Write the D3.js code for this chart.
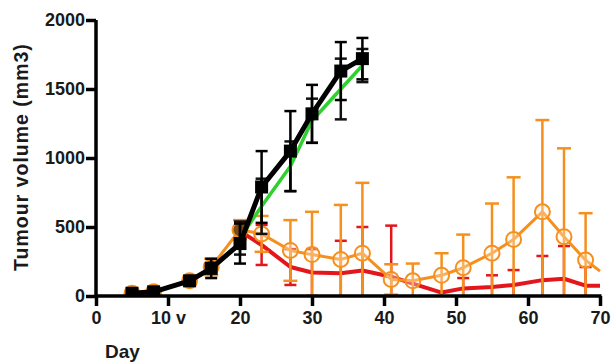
<!DOCTYPE html>
<html>
<head>
<meta charset="utf-8">
<script src="https://cdn.jsdelivr.net/npm/d3@7"></script>
<style>
  body { margin: 0; background: #fff; }
  svg { display: block; }
  text { font-family: "Liberation Sans", Arial, sans-serif; font-weight: bold; fill: #1a1a1a; }
</style>
</head>
<body>
<svg id="chart" width="614" height="362"></svg>
<script>
// ---- data ----
const xTicks = [0, 10, 20, 30, 40, 50, 60, 70];
const xTickLabels = ["0", "10 v", "20", "30", "40", "50", "60", "70"];
const yTicks = [0, 500, 1000, 1500, 2000];

const blackDays = [5, 8, 13, 16, 20, 23, 27, 30, 34, 37];
const blackVals = [20, 30, 110, 200, 380, 790, 1050, 1320, 1630, 1720];
const blackErr  = [10, 12, 30, 70, 145, 260, 290, 210, 210, 150];

const greenDays = [20, 23, 27, 30, 34, 37];
const greenVals = [420, 650, 940, 1270, 1500, 1670];
const greenErr  = [120, 200, 180, 160, 220, 120];

const orangeDays = [5, 8, 13, 16, 20, 23, 27, 30, 34, 37, 41, 44, 48, 51, 55, 58, 62, 65, 68, 70];
const orangeVals = [20, 30, 110, 210, 480, 450, 330, 300, 265, 310, 120, 110, 150, 205, 310, 410, 610, 430, 260, 180];
const orangeErr  = [10, 12, 30, 60, 70, 130, 220, 310, 395, 510, 110, 125, 160, 240, 360, 450, 665, 640, 340, 0];

const redDays = [20, 23, 27, 30, 34, 37, 41, 44, 48, 51, 55, 58, 62, 65, 68, 70];
const redVals = [470, 370, 210, 170, 165, 185, 140, 90, 25, 55, 65, 80, 115, 125, 75, 75];
const redErr  = [60, 145, 130, 170, 235, 315, 370, 0, 0, 75, 85, 108, 175, 237, 135, 0];

// ---- layout ----
const svg = d3.select("#chart");
const m = { left: 96, top: 20, right: 14, bottom: 66 };
const W = 614 - m.left - m.right;
const H = 362 - m.top - m.bottom;

const x = d3.scaleLinear().domain([0, 70]).range([0, W]);
const y = d3.scaleLinear().domain([0, 2000]).range([H, 0]);

const g = svg.append("g").attr("transform", `translate(${m.left},${m.top})`);

svg.append("defs").append("clipPath").attr("id", "clip")
  .append("rect").attr("x", 0).attr("y", -20).attr("width", W + 1).attr("height", H + 20);

const plot = g.append("g").attr("clip-path", "url(#clip)");

function series(days, vals, errs) {
  return days.map((d, i) => ({ d, v: vals[i], e: errs[i] }));
}

function drawErr(data, color, capW, width) {
  const eg = plot.append("g").attr("stroke", color).attr("stroke-width", width).attr("fill", "none");
  data.filter(p => p.e > 0).forEach(p => {
    const cx = x(p.d), top = y(p.v + p.e), bot = y(p.v - p.e);
    eg.append("line").attr("x1", cx).attr("x2", cx).attr("y1", top).attr("y2", bot);
    eg.append("line").attr("x1", cx - capW / 2).attr("x2", cx + capW / 2).attr("y1", top).attr("y2", top);
    eg.append("line").attr("x1", cx - capW / 2).attr("x2", cx + capW / 2).attr("y1", bot).attr("y2", bot);
  });
}

function drawLine(data, color, width) {
  plot.append("path").datum(data)
    .attr("fill", "none").attr("stroke", color).attr("stroke-width", width)
    .attr("stroke-linejoin", "round")
    .attr("d", d3.line().x(p => x(p.d)).y(p => y(p.v)));
}

const red = series(redDays, redVals, redErr);
const orange = series(orangeDays, orangeVals, orangeErr);
const green = series(greenDays, greenVals, greenErr);
const black = series(blackDays, blackVals, blackErr);

// red
drawErr(red, "#e3161c", 12, 2.5);
drawLine(red, "#e3161c", 4);

// orange
drawErr(orange, "#f5901e", 14, 2.5);
drawLine(orange, "#f5901e", 3);
plot.append("g").selectAll("circle").data(orange.slice(0, orange.length - 1)).join("circle")
  .attr("cx", p => x(p.d)).attr("cy", p => y(p.v)).attr("r", 7.5)
  .attr("fill", (p, i) => i < 5 ? "#7a4a1c" : "rgba(255,240,220,0.35)")
  .attr("stroke", "#f5901e").attr("stroke-width", 2);

// green
drawErr(green, "#111", 12, 2.5);
drawLine(green, "#2fd12f", 3.5);

// black
drawErr(black, "#000", 12, 2.5);
drawLine(black, "#000", 5);
plot.append("g").selectAll("rect").data(black).join("rect")
  .attr("x", p => x(p.d) - 6.5).attr("y", p => y(p.v) - 6.5)
  .attr("width", 13).attr("height", 13).attr("fill", "#000");

// ---- axes ----
const xAxis = d3.axisBottom(x).tickValues(xTicks)
  .tickFormat((d, i) => xTickLabels[i]).tickSize(10).tickPadding(5).tickSizeOuter(0);
const yAxis = d3.axisLeft(y).tickValues(yTicks).tickFormat(d3.format("d"))
  .tickSize(10).tickPadding(1).tickSizeOuter(0);

const gx = g.append("g").attr("transform", `translate(0,${H})`).call(xAxis);
const gy = g.append("g").call(yAxis);

[gx, gy].forEach(a => {
  a.select(".domain").attr("stroke", "#000").attr("stroke-width", 3.5);
  a.selectAll(".tick line").attr("stroke", "#000").attr("stroke-width", 3.5);
  a.selectAll(".tick text").style("font-size", "18px").style("font-weight", "bold")
    .style("font-family", "'Liberation Sans', Arial, sans-serif").attr("fill", "#1a1a1a");
});
gx.select(".domain").attr("d", `M-1.5,0H${W + 1.5}`);
gy.select(".domain").attr("d", `M0,0V${H + 1.5}`);

// axis titles
svg.append("text").attr("x", 105).attr("y", 358)
  .style("font-size", "19px").text("Day");
svg.append("text")
  .attr("transform", `translate(28,157) rotate(-90)`)
  .attr("text-anchor", "middle").style("font-size", "19.5px").style("letter-spacing", "1px")
  .text("Tumour volume (mm3)");
</script>
</body>
</html>
